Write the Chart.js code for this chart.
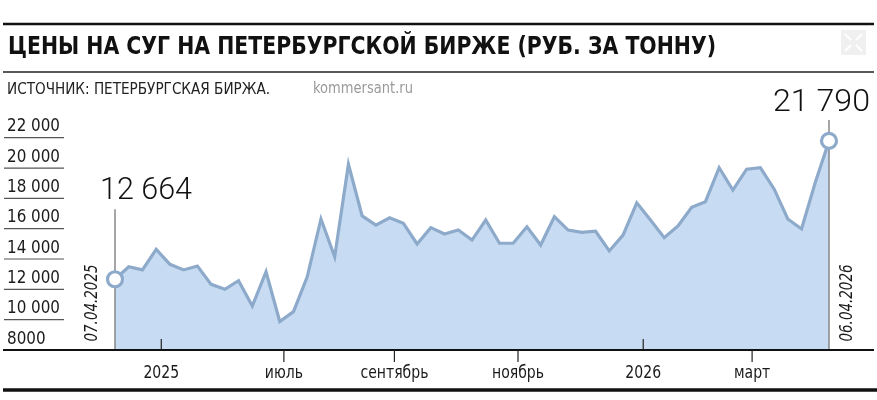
<!DOCTYPE html>
<html>
<head>
<meta charset="utf-8">
<script src="https://cdn.jsdelivr.net/npm/chart.js@4/dist/chart.umd.min.js"></script>
<style>
  html,body{margin:0;padding:0;background:#fff;}
  canvas{display:block;}
</style>
</head>
<body>
<canvas id="c" width="877" height="400" style="width:877px;height:400px"></canvas>
<script>
// weekly prices, 07.04.2025 .. 06.04.2026 (руб. за тонну)
const prices = [12664, 13490, 13280, 14640, 13650, 13280, 13540, 12330, 12000, 12570,
  10900, 13160, 9880, 10530, 12830, 16640, 14150, 20250, 16840, 16240,
  16720, 16360, 14990, 16070, 15650, 15910, 15250, 16570, 15040, 15040,
  16130, 14920, 16790, 15910, 15760, 15830, 14530, 15580, 17710, 16570,
  15400, 16180, 17410, 17780, 20020, 18550, 19920, 20020, 18620, 16640,
  15980, 19050, 21790];
const weeks = prices.map((_, i) => i);
const yTicks = [8000, 10000, 12000, 14000, 16000, 18000, 20000, 22000];
const xTickPos = [3.37, 12.3, 20.35, 29.35, 38.47, 46.4];
const xTickLabels = ['2025', 'июль', 'сентябрь', 'ноябрь', '2026', 'март'];
const startDate = '07.04.2025';
const endDate = '06.04.2026';
const title = 'ЦЕНЫ НА СУГ НА ПЕТЕРБУРГСКОЙ БИРЖЕ (РУБ. ЗА ТОННУ)';
const source = 'ИСТОЧНИК: ПЕТЕРБУРГСКАЯ БИРЖА.';
const site = 'kommersant.ru';

const NARROW = '"Liberation Sans Narrow", "DejaVu Sans Condensed", "Liberation Sans", sans-serif';
const LINE = '#8eaacb';
const FILL = '#c7dcf2';

function fmt(n){
  const s = String(Math.round(n));
  return n >= 10000 ? s.slice(0, -3) + ' ' + s.slice(-3) : s;
}

// draw text squeezed/stretched to a given width
function txt(ctx, s, x, y, font, color, align, w){
  ctx.save();
  ctx.font = font;
  ctx.fillStyle = color;
  ctx.textBaseline = 'middle';
  ctx.textAlign = align || 'left';
  const k = w ? w / ctx.measureText(s).width : 1;
  ctx.translate(x, y);
  ctx.scale(k, 1);
  ctx.fillText(s, 0, 0);
  ctx.restore();
}

function hline(ctx, x1, x2, y, lw, color){
  ctx.save();
  ctx.strokeStyle = color; ctx.lineWidth = lw;
  ctx.beginPath(); ctx.moveTo(x1, y); ctx.lineTo(x2, y); ctx.stroke();
  ctx.restore();
}

const decor = {
  id: 'decor',
  beforeDatasetsDraw(chart){
    const {ctx, scales:{x, y}} = chart;
    const last = prices.length - 1;
    ctx.save();
    ctx.strokeStyle = '#777'; ctx.lineWidth = 1.3;
    const x0 = x.getPixelForValue(0), x1 = x.getPixelForValue(last);
    ctx.beginPath();
    ctx.moveTo(x0, y.getPixelForValue(prices[0]) - 70); ctx.lineTo(x0, y.bottom);
    ctx.moveTo(x1, y.getPixelForValue(prices[last]) - 21); ctx.lineTo(x1, y.bottom);
    ctx.stroke();
    ctx.restore();
  },
  afterDraw(chart){
    const {ctx, scales:{x, y}} = chart;
    const last = prices.length - 1;

    // header
    hline(ctx, 3, 874, 24, 2.4, '#111');
    txt(ctx, title, 8, 48, 'bold 24px ' + NARROW, '#111', 'left', 708);
    hline(ctx, 3, 874, 72, 1.4, '#222');
    txt(ctx, source, 7, 90, '15px ' + NARROW, '#222', 'left', 263);
    txt(ctx, site, 313, 89, '15px ' + NARROW, '#9a9a9a', 'left', 100);

    // expand icon (faint)
    ctx.save();
    ctx.fillStyle = '#f0f0f0';
    ctx.fillRect(841, 30, 25, 25);
    ctx.strokeStyle = '#fff'; ctx.lineWidth = 2;
    ctx.beginPath();
    ctx.moveTo(845, 34); ctx.lineTo(851, 40);
    ctx.moveTo(862, 34); ctx.lineTo(856, 40);
    ctx.moveTo(845, 51); ctx.lineTo(851, 45);
    ctx.moveTo(862, 51); ctx.lineTo(856, 45);
    ctx.stroke();
    ctx.restore();

    // y labels with short rules
    ctx.save(); ctx.font = '18px ' + NARROW;
    const ky = 53 / ctx.measureText('22 000').width;
    ctx.restore();
    yTicks.forEach(v => {
      const py = y.getPixelForValue(v);
      hline(ctx, 4, 64, py, 1.2, '#555');
      ctx.save(); ctx.font = '18px ' + NARROW;
      const w = ctx.measureText(fmt(v)).width * ky;
      ctx.restore();
      txt(ctx, fmt(v), 7, py - 11, '18px ' + NARROW, '#1a1a1a', 'left', w);
    });

    // x axis
    hline(ctx, 3, 874, y.bottom, 2, '#111');
    hline(ctx, 3, 877, 390, 3.5, '#111');
    ctx.save(); ctx.font = '17px ' + NARROW;
    const kx = 68 / ctx.measureText('сентябрь').width;
    ctx.restore();
    xTickPos.forEach((p, i) => {
      const px = x.getPixelForValue(p);
      const up = /^\d{4}$/.test(xTickLabels[i]);
      ctx.save();
      ctx.strokeStyle = '#222'; ctx.lineWidth = 1.2;
      ctx.beginPath();
      ctx.moveTo(px, y.bottom);
      ctx.lineTo(px, up ? y.bottom - 11 : y.bottom + 12);
      ctx.stroke();
      ctx.font = '17px ' + NARROW;
      const w = ctx.measureText(xTickLabels[i]).width * kx;
      ctx.restore();
      txt(ctx, xTickLabels[i], px, 374, '17px ' + NARROW, '#1a1a1a', 'center', w);
    });

    // end dates, rotated
    const x0 = x.getPixelForValue(0), x1 = x.getPixelForValue(last);
    [[startDate, x0 - 23], [endDate, x1 + 18]].forEach(([s, px]) => {
      ctx.save();
      ctx.translate(px, 303);
      ctx.rotate(-Math.PI / 2);
      txt(ctx, s, 0, 0, 'italic 18px ' + NARROW, '#1a1a1a', 'center', 77);
      ctx.restore();
    });

    // end values
    txt(ctx, fmt(prices[0]), 100, y.getPixelForValue(prices[0]) - 88, '300 32px Roboto, "Liberation Sans", sans-serif', '#111', 'left', 92);
    txt(ctx, fmt(prices[last]), 870, y.getPixelForValue(prices[last]) - 38, '300 32px Roboto, "Liberation Sans", sans-serif', '#111', 'right', 97);
  }
};

new Chart(document.getElementById('c'), {
  type: 'line',
  data: {
    labels: weeks,
    datasets: [{
      data: prices.map((v, i) => ({x: weeks[i], y: v})),
      borderColor: LINE,
      borderWidth: 3.2,
      backgroundColor: FILL,
      fill: 'start',
      tension: 0,
      clip: false,
      borderJoinStyle: 'miter',
      pointRadius: c => (c.dataIndex === 0 || c.dataIndex === prices.length - 1) ? 7.5 : 0,
      pointBackgroundColor: '#fff',
      pointBorderColor: LINE,
      pointBorderWidth: 3.2,
      pointHoverRadius: 0
    }]
  },
  options: {
    responsive: false,
    animation: false,
    devicePixelRatio: 1,
    events: [],
    layout: { padding: { left: 115, right: 48, top: 137.7, bottom: 50 } },
    scales: {
      x: { type: 'linear', display: false, min: 0, max: prices.length - 1 },
      y: { type: 'linear', display: false, min: yTicks[0], max: yTicks[yTicks.length - 1] }
    },
    plugins: {
      legend: { display: false },
      tooltip: { enabled: false },
      filler: { drawTime: 'beforeDatasetsDraw' }
    }
  },
  plugins: [decor]
});
</script>
</body>
</html>
